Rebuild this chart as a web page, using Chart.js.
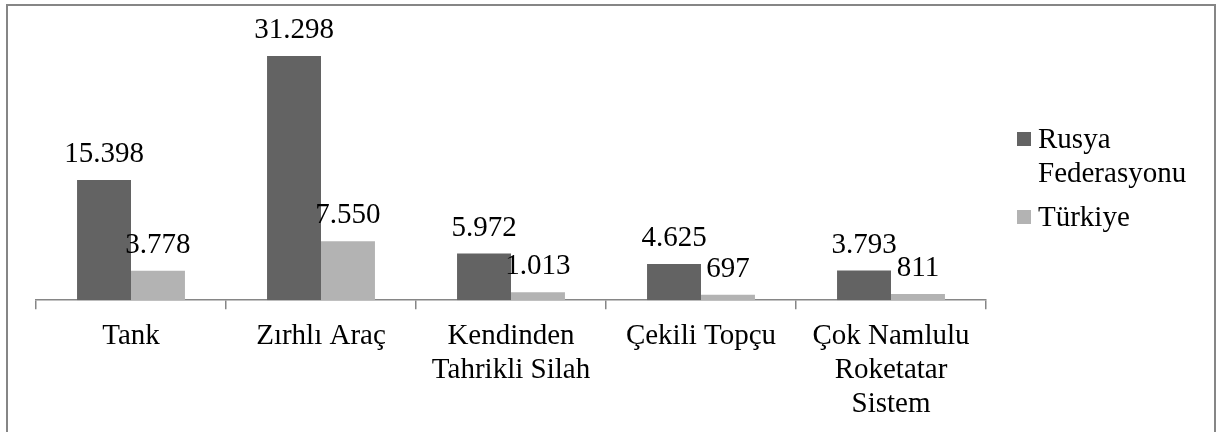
<!DOCTYPE html>
<html>
<head>
<meta charset="utf-8">
<script src="https://cdn.jsdelivr.net/npm/chart.js@4"></script>
<style>
html,body{margin:0;padding:0;background:#fff;}
#wrap{position:relative;width:1217px;height:432px;}
</style>
</head>
<body>
<div id="wrap"><canvas id="c" width="1217" height="432"></canvas></div>
<script>
const categories = [
  ['Tank'],
  ['Zırhlı Araç'],
  ['Kendinden', 'Tahrikli Silah'],
  ['Çekili Topçu'],
  ['Çok Namlulu', 'Roketatar', 'Sistem']
];
const rusyaValues = [15398, 31298, 5972, 4625, 3793];
const turkiyeValues = [3778, 7550, 1013, 697, 811];
const seriesNames = [['Rusya', 'Federasyonu'], ['Türkiye']];
const yMax = 35000;

const FONT = "'Liberation Serif', 'Times New Roman', serif";
const FSIZE = 29;

function fmt(v) {
  return String(v).replace(/\B(?=(\d{3})+(?!\d))/g, '.');
}

const frameAndLabels = {
  id: 'frameAndLabels',
  beforeDraw(chart) {
    const ctx = chart.ctx;
    ctx.save();
    ctx.fillStyle = '#fff';
    ctx.fillRect(0, 0, chart.width, chart.height);
    ctx.strokeStyle = '#868686';
    ctx.lineWidth = 2;
    ctx.strokeRect(7, 5, 1208, 440);
    ctx.restore();
  },
  afterDatasetsDraw(chart) {
    const ctx = chart.ctx;
    ctx.save();
    ctx.font = FSIZE + 'px ' + FONT;
    ctx.fillStyle = '#000';
    ctx.textAlign = 'center';
    ctx.textBaseline = 'alphabetic';
    chart.data.datasets.forEach((ds, di) => {
      const meta = chart.getDatasetMeta(di);
      meta.data.forEach((bar, i) => {
        ctx.fillText(fmt(ds.data[i]), bar.x, bar.y - 18);
      });
    });
    // legend
    const items = chart.data.datasets.map(ds => ({ lines: ds.legendLines, color: ds.backgroundColor }));
    let baseline = 148;
    items.forEach((it) => {
      ctx.fillStyle = it.color;
      ctx.fillRect(1017, baseline - 16, 14, 14);
      ctx.fillStyle = '#000';
      ctx.textAlign = 'left';
      it.lines.forEach((ln, k) => {
        ctx.fillText(ln, 1038, baseline + k * 33.5);
      });
      baseline += it.lines.length * 33.5 + 11;
    });
    ctx.restore();
  }
};

new Chart(document.getElementById('c'), {
  type: 'bar',
  data: {
    labels: categories,
    datasets: [
      { label: 'Rusya Federasyonu', legendLines: seriesNames[0], data: rusyaValues, backgroundColor: '#636363', borderWidth: 0 },
      { label: 'Türkiye', legendLines: seriesNames[1], data: turkiyeValues, backgroundColor: '#b3b3b3', borderWidth: 0 }
    ]
  },
  options: {
    responsive: false,
    animation: false,
    devicePixelRatio: 1,
    categoryPercentage: 0.568,
    barPercentage: 1.0,
    layout: { padding: { left: 36, right: 231, top: 27, bottom: 1 } },
    plugins: {
      legend: { display: false },
      tooltip: { enabled: false }
    },
    scales: {
      y: {
        display: false,
        min: 0,
        max: yMax
      },
      x: {
        grid: {
          offset: true,
          drawOnChartArea: false,
          drawTicks: true,
          tickLength: 9,
          color: '#868686',
          lineWidth: 1.5
        },
        border: { display: true, color: '#868686', width: 1.5 },
        ticks: {
          color: '#000',
          padding: 10,
          maxRotation: 0,
          autoSkip: false,
          font: { family: FONT, size: FSIZE, lineHeight: 1.17 }
        }
      }
    }
  },
  plugins: [frameAndLabels]
});
</script>
</body>
</html>
